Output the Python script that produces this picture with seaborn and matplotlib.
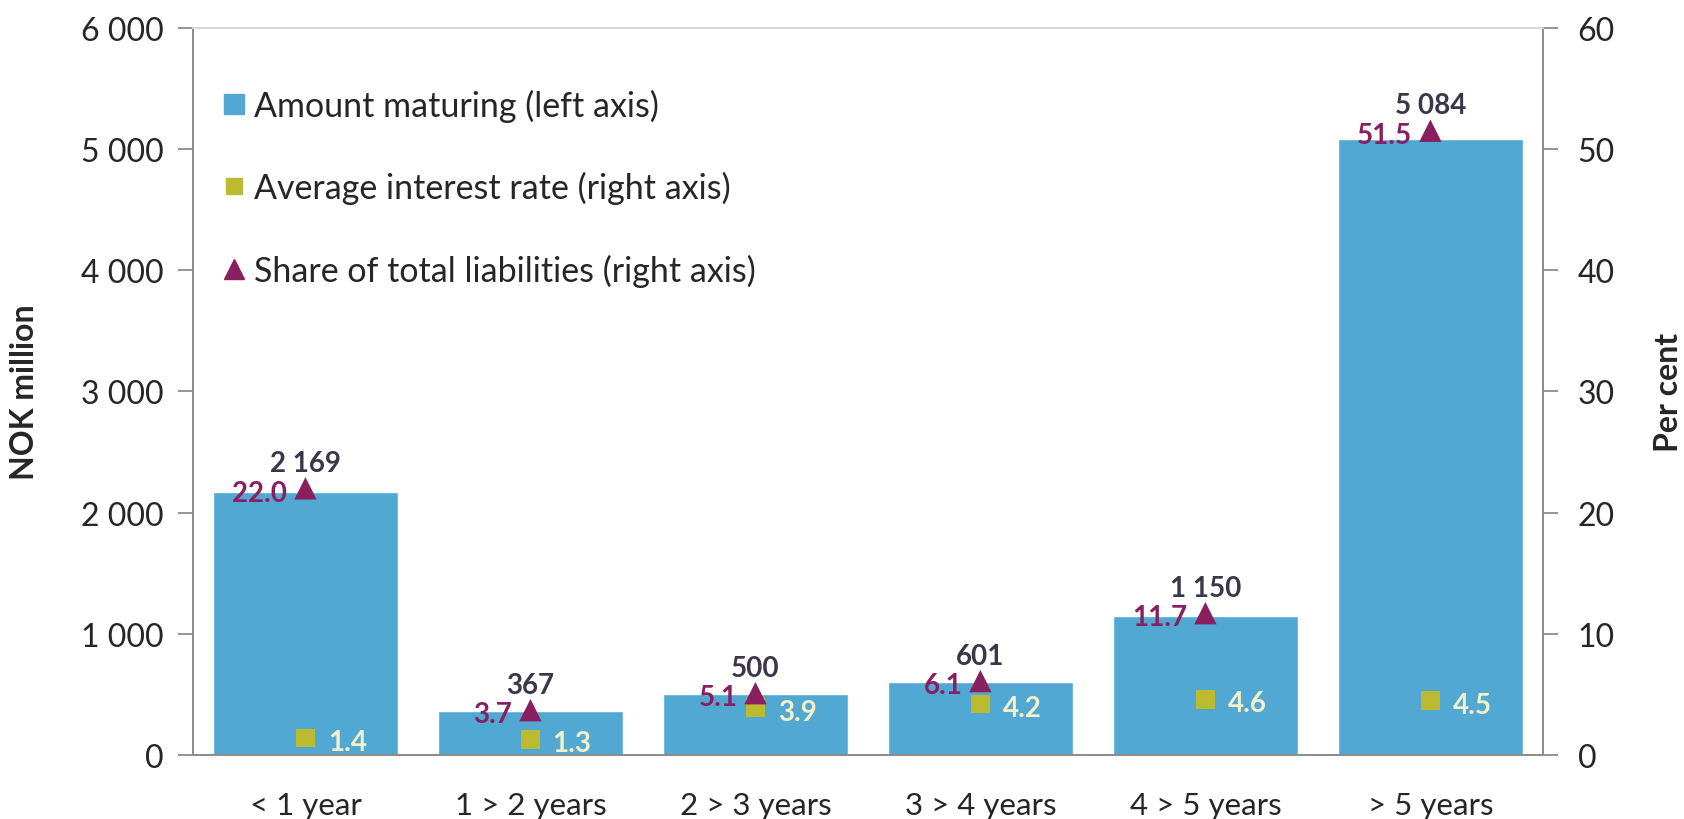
import numpy as np
import pandas as pd
import matplotlib
matplotlib.use("Agg")
import matplotlib.pyplot as plt
from matplotlib.lines import Line2D
from matplotlib.ticker import FuncFormatter, FixedLocator
import seaborn as sns

# ---------------- DATA ----------------

categories = ["< 1 year", "1 > 2 years", "2 > 3 years", "3 > 4 years", "4 > 5 years", "> 5 years"]
amount = [2169, 367, 500, 601, 1150, 5084]          # NOK million, left axis
interest_rate = [1.4, 1.3, 3.9, 4.2, 4.6, 4.5]     # per cent, right axis
share = [22.0, 3.7, 5.1, 6.1, 11.7, 51.5]          # per cent, right axis

left_ticks = [0, 1000, 2000, 3000, 4000, 5000, 6000]
right_ticks = [0, 10, 20, 30, 40, 50, 60]

df = pd.DataFrame({"cat": categories, "amount": amount,
                   "rate": interest_rate, "share": share})

# ---------------- STYLE ----------------

BLUE = "#51a8d3"
OLIVE = "#bcbb30"
PURPLE = "#8a1f5f"
DARK = "#3b3649"
CREAM = "#f4f0c9"
AXIS_GREY = "#8c8c8c"

sns.set_style("white")
plt.rcParams["font.family"] = ["Lato", "DejaVu Sans"]

fig = plt.figure(figsize=(16.84, 8.2), dpi=100)
ax = fig.add_axes([0.1146, 0.078, 0.8016, 0.887])

# ---------------- BARS ----------------

sns.barplot(data=df, x="cat", y="amount", color=BLUE, width=0.82,
            saturation=1, ax=ax, zorder=2)
ax.set_ylim(0, 6000)
ax.set_xlim(-0.5, len(categories) - 0.5)
ax.yaxis.set_major_locator(FixedLocator(left_ticks))
ax.yaxis.set_major_formatter(FuncFormatter(lambda v, p: f"{int(v):,}".replace(",", " ")))
ax.set_xlabel("")
ax.set_ylabel("NOK million", fontsize=23, fontweight="bold", labelpad=30)

# category boundaries as ticks, labels at centres
ax.set_xticks(np.arange(len(categories)))
ax.set_xticklabels(categories)
ax.set_xticks(np.arange(len(categories) + 1) - 0.5, minor=True)
ax.tick_params(axis="x", which="major", length=0, labelsize=22.5, pad=26)
ax.tick_params(axis="x", which="minor", length=11, width=1.3, color=AXIS_GREY, direction="out")
ax.tick_params(axis="y", which="major", length=11, width=1.3, color=AXIS_GREY,
               direction="out", labelsize=23, left=True, pad=10)

for side in ["left", "bottom", "right"]:
    ax.spines[side].set_color(AXIS_GREY)
    ax.spines[side].set_linewidth(1.3)
ax.spines["top"].set_color("#d9d9d9")
ax.spines["top"].set_linewidth(1.3)

# ---------------- RIGHT AXIS ----------------

ax2 = ax.twinx()
x_pos = np.arange(len(categories))
sns.scatterplot(x=x_pos, y=interest_rate, marker="s", s=180, color=OLIVE,
                edgecolor="none", ax=ax2, zorder=3)
sns.scatterplot(x=x_pos, y=share, marker="^", s=260, color=PURPLE,
                edgecolor="none", ax=ax2, zorder=4)
ax2.set_ylim(0, 60)
ax2.set_xlim(-0.5, len(categories) - 0.5)
ax2.yaxis.set_major_locator(FixedLocator(right_ticks))
ax2.set_ylabel("Per cent", fontsize=23, fontweight="bold", labelpad=28, rotation=90)
ax2.tick_params(axis="y", which="major", length=11, width=1.3, color=AXIS_GREY,
                direction="out", labelsize=23, right=True, pad=14)
for side in ["left", "bottom", "right"]:
    ax2.spines[side].set_color(AXIS_GREY)
    ax2.spines[side].set_linewidth(1.3)
ax2.spines["top"].set_color("#d9d9d9")
ax2.spines["top"].set_linewidth(1.3)

# ---------------- DATA LABELS ----------------

for i in range(len(categories)):
    ax2.annotate(f"{amount[i]:,}".replace(",", " "), (x_pos[i], share[i]),
                 xytext=(0, 9), textcoords="offset points", ha="center", va="bottom",
                 fontsize=20, fontweight="bold", color=DARK)
    ax2.annotate(f"{share[i]:.1f}", (x_pos[i], share[i]),
                 xytext=(-13, -3), textcoords="offset points", ha="right", va="center",
                 fontsize=20, fontweight="bold", color=PURPLE)
    ax2.annotate(f"{interest_rate[i]:.1f}", (x_pos[i], interest_rate[i]),
                 xytext=(16, -3), textcoords="offset points", ha="left", va="center",
                 fontsize=20, fontweight="bold", color=CREAM)

# ---------------- LEGEND ----------------

handles = [
    Line2D([], [], marker="s", linestyle="none", markersize=15, color=BLUE),
    Line2D([], [], marker="s", linestyle="none", markersize=12, color=OLIVE),
    Line2D([], [], marker="^", linestyle="none", markersize=14, color=PURPLE),
]
labels = ["Amount maturing (left axis)", "Average interest rate (right axis)",
          "Share of total liabilities (right axis)"]
ax2.legend(handles, labels, loc="upper left", bbox_to_anchor=(0.01, 0.935),
           frameon=False, fontsize=24.5, labelspacing=1.45, handlelength=0.8,
           handletextpad=0.2, borderaxespad=0)

fig.savefig("out.png", dpi=100)
